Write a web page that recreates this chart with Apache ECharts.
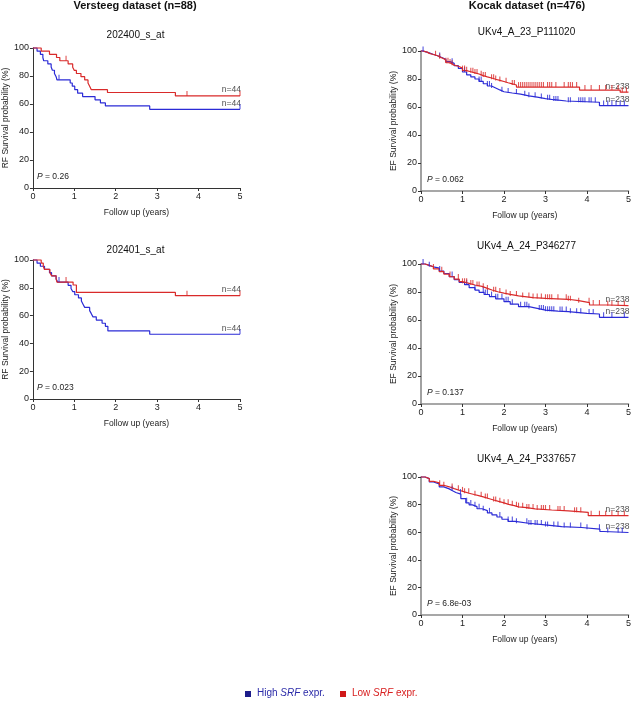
<!DOCTYPE html>
<html>
<head>
<meta charset="utf-8">
<script src="https://cdn.jsdelivr.net/npm/echarts@6/dist/echarts.min.js"></script>
<style>
html,body{margin:0;padding:0;background:#fff;}
#chart{width:634px;height:701px;}
</style>
</head>
<body>
<div id="chart"></div>
<script>
// ---------- tick definitions ----------
const xTicks = [0, 1, 2, 3, 4, 5];
const yTicks = [0, 20, 40, 60, 80, 100];

// ---------- Versteeg 202400_s_at ----------
const LT_red_t  = [0, 0.2, 0.4, 0.57, 0.65, 0.85, 0.96, 1.0, 1.05, 1.16, 1.25, 1.33, 1.37, 1.41, 1.8, 3.44, 5];
const LT_red_s  = [100, 97.7, 95.5, 93.2, 90.9, 88.6, 86.3, 84.0, 81.8, 79.5, 77.2, 75.0, 72.7, 70.2, 68.2, 65.8, 65.8];
const LT_red_c  = [0.8, 3.72, 5];
const LT_blue_t = [0, 0.1, 0.18, 0.24, 0.26, 0.36, 0.44, 0.47, 0.52, 0.56, 0.58, 0.9, 0.95, 1.01, 1.08, 1.2, 1.5, 1.63, 1.75, 2.82, 5];
const LT_blue_s = [100, 97.7, 95.5, 93.2, 90.9, 88.6, 86.4, 84.1, 81.8, 79.5, 77.3, 75.0, 72.7, 70.2, 67.7, 65.3, 63.0, 60.8, 58.6, 56.2, 56.2];
const LT_blue_c = [0.63, 5];

// ---------- Versteeg 202401_s_at ----------
const LM_red_t  = [0, 0.2, 0.25, 0.28, 0.41, 0.45, 0.56, 0.58, 0.97, 1.05, 3.44, 5];
const LM_red_s  = [100, 97.7, 95.5, 93.2, 90.9, 88.6, 86.4, 84.1, 82.0, 76.7, 74.3, 74.3];
const LM_red_c  = [0.8, 3.72, 5];
const LM_blue_t = [0, 0.1, 0.18, 0.28, 0.4, 0.45, 0.56, 0.6, 0.85, 0.92, 0.96, 1.01, 1.1, 1.17, 1.21, 1.25, 1.37, 1.41, 1.45, 1.53, 1.67, 1.75, 1.81, 2.82, 5];
const LM_blue_s = [100, 97.7, 95.5, 93.2, 90.9, 88.6, 86.4, 84.1, 81.8, 79.5, 77.3, 75.0, 72.7, 70.5, 68.2, 65.9, 63.6, 61.4, 59.1, 56.8, 54.5, 52.3, 49.0, 46.6, 46.6];
const LM_blue_c = [0.63, 5];

// ---------- Kocak UKv4_A_23_P111020 ----------
const RT_red_t  = [0, 0.05, 0.1, 0.15, 0.2, 0.3, 0.4, 0.45, 0.55, 0.6, 0.7, 0.75, 0.8, 0.9, 1.0, 1.1, 1.2, 1.3, 1.4, 1.5, 1.6, 1.7, 1.8, 1.9, 2.0, 2.1, 2.2, 2.3, 3.82, 4.8, 5];
const RT_red_s  = [100, 99.6, 99.2, 98.3, 97.5, 96.6, 95.8, 94.5, 93.3, 91.6, 90.8, 89.9, 89.1, 87.8, 86.0, 85.2, 84.4, 83.6, 82.4, 81.5, 80.7, 79.8, 79.0, 78.2, 77.3, 76.5, 75.7, 74.2, 72.1, 70.6, 70.6];
const RT_red_c  = [0.35, 0.45, 0.6, 0.65, 0.7, 0.75, 1.0, 1.05, 1.1, 1.2, 1.25, 1.3, 1.35, 1.45, 1.5, 1.55, 1.7, 1.75, 1.8, 1.9, 2.05, 2.2, 2.25, 2.35, 2.4, 2.45, 2.5, 2.55, 2.6, 2.65, 2.7, 2.75, 2.8, 2.85, 2.9, 2.95, 3.05, 3.1, 3.15, 3.25, 3.45, 3.55, 3.6, 3.65, 3.75, 3.95, 4.1, 4.3, 4.45, 4.6, 4.75, 4.85, 4.95];
const RT_blue_t = [0, 0.05, 0.1, 0.2, 0.3, 0.4, 0.5, 0.6, 0.7, 0.8, 0.9, 1.0, 1.1, 1.2, 1.3, 1.4, 1.5, 1.6, 1.7, 1.8, 1.9, 2.0, 2.2, 2.4, 2.6, 2.8, 3.0, 3.2, 3.5, 4.3, 5];
const RT_blue_s = [100, 99.6, 98.7, 97.5, 96.6, 95.4, 94.1, 92.4, 91.2, 89.5, 87.5, 85.0, 83.0, 81.5, 80.0, 78.3, 76.6, 75.0, 73.6, 72.2, 70.9, 70.0, 69.2, 68.0, 67.0, 66.0, 65.2, 64.3, 63.4, 61.0, 61.0];
const RT_blue_c = [0.05, 0.45, 0.75, 1.05, 1.4, 1.45, 1.6, 1.65, 1.7, 1.95, 2.1, 2.3, 2.5, 2.6, 2.75, 2.9, 3.05, 3.1, 3.2, 3.25, 3.3, 3.55, 3.6, 3.8, 3.85, 3.9, 3.95, 4.05, 4.1, 4.2, 4.4, 4.5, 4.6, 4.7, 4.8, 4.9];

// ---------- Kocak UKv4_A_24_P346277 ----------
const RM_red_t  = [0, 0.1, 0.2, 0.3, 0.44, 0.55, 0.68, 0.8, 0.92, 1.0, 1.16, 1.3, 1.47, 1.6, 1.71, 1.85, 2.0, 2.15, 2.35, 2.7, 3.0, 3.55, 3.8, 4.06, 4.5, 5];
const RM_red_s  = [100, 99, 98, 96.5, 94.5, 92.8, 91, 89.2, 87.4, 86.2, 85, 84, 82.6, 81.4, 80.2, 79.2, 78.3, 77.2, 76, 75.4, 74.8, 73.8, 72.4, 70.7, 70.2, 70.2];
const RM_red_c  = [0.3, 0.5, 0.7, 0.9, 1.0, 1.05, 1.1, 1.2, 1.25, 1.35, 1.4, 1.5, 1.6, 1.75, 1.8, 1.9, 2.05, 2.15, 2.3, 2.45, 2.6, 2.7, 2.8, 2.9, 3.0, 3.05, 3.1, 3.15, 3.3, 3.5, 3.55, 3.6, 3.8, 4.05, 4.15, 4.3, 4.5, 4.6, 4.75, 4.9];
const RM_blue_t = [0, 0.1, 0.2, 0.3, 0.44, 0.55, 0.68, 0.8, 0.92, 1.05, 1.16, 1.3, 1.4, 1.52, 1.65, 1.8, 2.0, 2.15, 2.35, 2.6, 2.8, 3.0, 3.3, 3.55, 4.0, 4.3, 5];
const RM_blue_s = [100, 99, 98, 97, 95, 93.2, 91, 88.8, 86.8, 85.2, 83.1, 81.4, 79.8, 78.2, 76.7, 75.1, 73.1, 71.3, 69.5, 68.3, 67.1, 66.3, 66.0, 64.8, 64.3, 61.9, 61.9];
const RM_blue_c = [0.05, 0.2, 0.45, 0.75, 1.1, 1.3, 1.5, 1.55, 1.6, 1.7, 1.8, 1.85, 1.95, 2.05, 2.1, 2.2, 2.4, 2.5, 2.55, 2.6, 2.85, 2.9, 2.95, 3.0, 3.05, 3.1, 3.15, 3.2, 3.35, 3.4, 3.5, 3.6, 3.75, 3.85, 4.05, 4.15, 4.4, 4.6, 4.9];

// ---------- Kocak UKv4_A_24_P337657 ----------
const RB_red_t  = [0, 0.1, 0.2, 0.3, 0.44, 0.55, 0.68, 0.8, 0.92, 1.05, 1.16, 1.28, 1.39, 1.5, 1.63, 1.75, 1.87, 2.0, 2.11, 2.25, 2.35, 2.55, 2.75, 3.15, 3.55, 4.03, 5];
const RB_red_s  = [100, 98.8, 96.9, 95.8, 94, 92.9, 91.6, 90.4, 89.2, 88.2, 87.3, 86.5, 85.6, 84.4, 83.3, 82.3, 81.3, 80.2, 79.2, 78.4, 77.8, 76.9, 76.1, 75.4, 74.4, 72, 72];
const RB_red_c  = [0.45, 0.55, 0.75, 0.9, 1.0, 1.05, 1.15, 1.3, 1.45, 1.55, 1.6, 1.75, 1.8, 1.9, 2.0, 2.1, 2.2, 2.3, 2.35, 2.45, 2.55, 2.6, 2.7, 2.8, 2.9, 2.95, 3.0, 3.1, 3.3, 3.35, 3.45, 3.7, 3.75, 3.85, 4.1, 4.3, 4.45, 4.6, 4.75, 4.9];
const RB_blue_t = [0, 0.1, 0.2, 0.3, 0.44, 0.55, 0.68, 0.76, 0.84, 0.96, 1.08, 1.16, 1.24, 1.35, 1.47, 1.6, 1.71, 1.83, 1.95, 2.1, 2.27, 2.59, 2.99, 3.39, 3.87, 4.31, 4.4, 5];
const RB_blue_s = [100, 98.8, 96.4, 95, 92.8, 91.4, 90, 88.8, 87.6, 84.4, 81.3, 79.8, 78.5, 77, 75.6, 74, 72.5, 71, 69.4, 67.8, 66.5, 65.3, 64.1, 63.4, 62.2, 60.5, 59.8, 59.8];
const RB_blue_c = [0.75, 0.95, 1.1, 1.2, 1.3, 1.4, 1.5, 1.65, 1.9, 2.1, 2.2, 2.3, 2.55, 2.6, 2.65, 2.75, 2.8, 2.9, 3.0, 3.05, 3.2, 3.3, 3.45, 3.6, 3.85, 4.0, 4.3, 4.5, 4.75, 4.85];

// ---------- texts ----------
const datasetTitles = ['Versteeg dataset (n=88)', 'Kocak dataset (n=476)'];
const probeNames = ['202400_s_at', '202401_s_at', 'UKv4_A_23_P111020', 'UKv4_A_24_P346277', 'UKv4_A_24_P337657'];
const pValues = ['0.26', '0.023', '0.062', '0.137', '6.8e-03'];
const nHigh = ['n=44', 'n=44', 'n=238', 'n=238', 'n=238'];
const nLow  = ['n=44', 'n=44', 'n=238', 'n=238', 'n=238'];
const yNames = ['RF Survival probability (%)', 'RF Survival probability (%)', 'EF Survival probability (%)', 'EF Survival probability (%)', 'EF Survival probability (%)'];
const xName = 'Follow up (years)';
const legendNames = ['High SRF expr.', 'Low SRF expr.'];

const BLUE = '#2b2bd6';
const RED = '#d92a2a';
const FONT = '"Liberation Sans", Arial, sans-serif';

const curves = [
  {blue:[LT_blue_t, LT_blue_s, LT_blue_c], red:[LT_red_t, LT_red_s, LT_red_c]},
  {blue:[LM_blue_t, LM_blue_s, LM_blue_c], red:[LM_red_t, LM_red_s, LM_red_c]},
  {blue:[RT_blue_t, RT_blue_s, RT_blue_c], red:[RT_red_t, RT_red_s, RT_red_c]},
  {blue:[RM_blue_t, RM_blue_s, RM_blue_c], red:[RM_red_t, RM_red_s, RM_red_c]},
  {blue:[RB_blue_t, RB_blue_s, RB_blue_c], red:[RB_red_t, RB_red_s, RB_red_c]}
];

// layout
const grids = [
  {left:31, top:48, width:209, height:140},
  {left:31, top:260, width:209, height:139},
  {left:421, top:51, width:211, height:140},
  {left:421, top:264, width:211, height:140},
  {left:421, top:477, width:211, height:138}
];
const subTitleTop = [30, 245, 27, 241, 454];
const isRight = [false, false, true, true, true];

function stepAt(ts, ss, t) {
  let v = ss[0];
  for (let i = 0; i < ts.length; i++) { if (ts[i] <= t) v = ss[i]; }
  return v;
}

const xAxes = [], yAxes = [], series = [], titles = [], graphics = [];

grids.forEach((g, i) => {
  const axCol = isRight[i] ? '#8a8a8a' : '#333';
  const axW = isRight[i] ? 1.6 : 1;
  xAxes.push({
    gridIndex: i, type: 'value', min: xTicks[0], max: xTicks[xTicks.length - 1], interval: xTicks[1] - xTicks[0],
    name: xName, nameLocation: 'middle', nameGap: 20,
    nameTextStyle: {fontSize: 8.5, color: '#222', fontFamily: FONT},
    axisLine: {onZero: false, lineStyle: {color: axCol, width: axW}},
    axisTick: {length: 3, lineStyle: {color: '#333'}},
    axisLabel: {fontSize: 9, color: '#222', margin: 4, fontFamily: FONT},
    splitLine: {show: false}
  });
  yAxes.push({
    gridIndex: i, type: 'value', min: yTicks[0], max: yTicks[yTicks.length - 1], interval: yTicks[1] - yTicks[0],
    name: yNames[i], nameLocation: 'middle', nameGap: isRight[i] ? 19 : 22,
    nameTextStyle: {fontSize: 8.5, color: '#222', fontFamily: FONT},
    axisLine: {show: true, onZero: false, lineStyle: {color: axCol, width: axW}},
    axisTick: {show: true, length: 3, lineStyle: {color: '#333'}},
    axisLabel: {fontSize: 9, color: '#222', margin: 4, fontFamily: FONT},
    splitLine: {show: false}
  });

  [['blue', BLUE, nHigh[i]], ['red', RED, nLow[i]]].forEach(([key, col, nTxt]) => {
    const [ts, ss, cs] = curves[i][key];
    series.push({
      type: 'line', xAxisIndex: i, yAxisIndex: i, step: 'end', showSymbol: false, symbol: 'none',
      data: ts.map((t, k) => [t, ss[k]]), lineStyle: {color: col, width: 1.2}, silent: true, clip: false,
      z: key === 'red' ? 3 : 2
    });
    series.push({
      type: 'scatter', xAxisIndex: i, yAxisIndex: i, symbol: 'rect', symbolSize: [1.1, 5], symbolOffset: [0, -2.5],
      itemStyle: {color: col}, data: cs.map(t => [t, stepAt(ts, ss, t)]), clip: false, silent: true, z: 3
    });
    const endT = ts[ts.length - 1];
    series.push({
      type: 'scatter', xAxisIndex: i, yAxisIndex: i, symbolSize: 0, silent: true, clip: false,
      data: [[endT, ss[ss.length - 1]]],
      label: {show: true, formatter: nTxt, position: 'left', distance: 0, offset: [1, -6], fontSize: 8.5, color: '#222', fontFamily: FONT}
    });
  });

  titles.push({
    text: probeNames[i], left: g.left + g.width / 2, top: subTitleTop[i], textAlign: 'center',
    textStyle: {fontSize: 10, fontWeight: 'normal', color: '#111', fontFamily: FONT}, padding: 0
  });
  graphics.push({
    type: 'text', left: g.left + 6, top: g.top + g.height - 16,
    style: {
      text: '{i|P} = ' + pValues[i],
      font: '8.5px ' + FONT, fill: '#222',
      rich: {i: {fontStyle: 'italic', font: 'italic 8.5px ' + FONT, fill: '#222'}}
    }
  });
});

titles.push({text: datasetTitles[0], left: 135, top: 0, textAlign: 'center', padding: 0,
  textStyle: {fontSize: 11, fontWeight: 'bold', color: '#111', fontFamily: FONT}});
titles.push({text: datasetTitles[1], left: 527, top: 0, textAlign: 'center', padding: 0,
  textStyle: {fontSize: 11, fontWeight: 'bold', color: '#111', fontFamily: FONT}});

// legend
const legendItems = [
  {x: 245, sq: '#1c1c8a', tc: '#2a2aa8', parts: legendNames[0].split('SRF')},
  {x: 340, sq: '#d01818', tc: '#d82020', parts: legendNames[1].split('SRF')}
];
legendItems.forEach(L => {
  graphics.push({type: 'rect', left: L.x, top: 691, shape: {width: 6, height: 6}, style: {fill: L.sq}});
  graphics.push({
    type: 'text', left: L.x + 12, top: 688,
    style: {
      text: L.parts[0] + '{i|SRF}' + L.parts[1], font: '10px ' + FONT, fill: L.tc,
      rich: {i: {font: 'italic 10px ' + FONT, fill: L.tc}}
    }
  });
});

const chart = echarts.init(document.getElementById('chart'), null, {renderer: 'canvas'});
chart.setOption({
  animation: false,
  backgroundColor: '#fff',
  title: titles,
  grid: grids,
  xAxis: xAxes,
  yAxis: yAxes,
  series: series,
  graphic: graphics
});
</script>
</body>
</html>
